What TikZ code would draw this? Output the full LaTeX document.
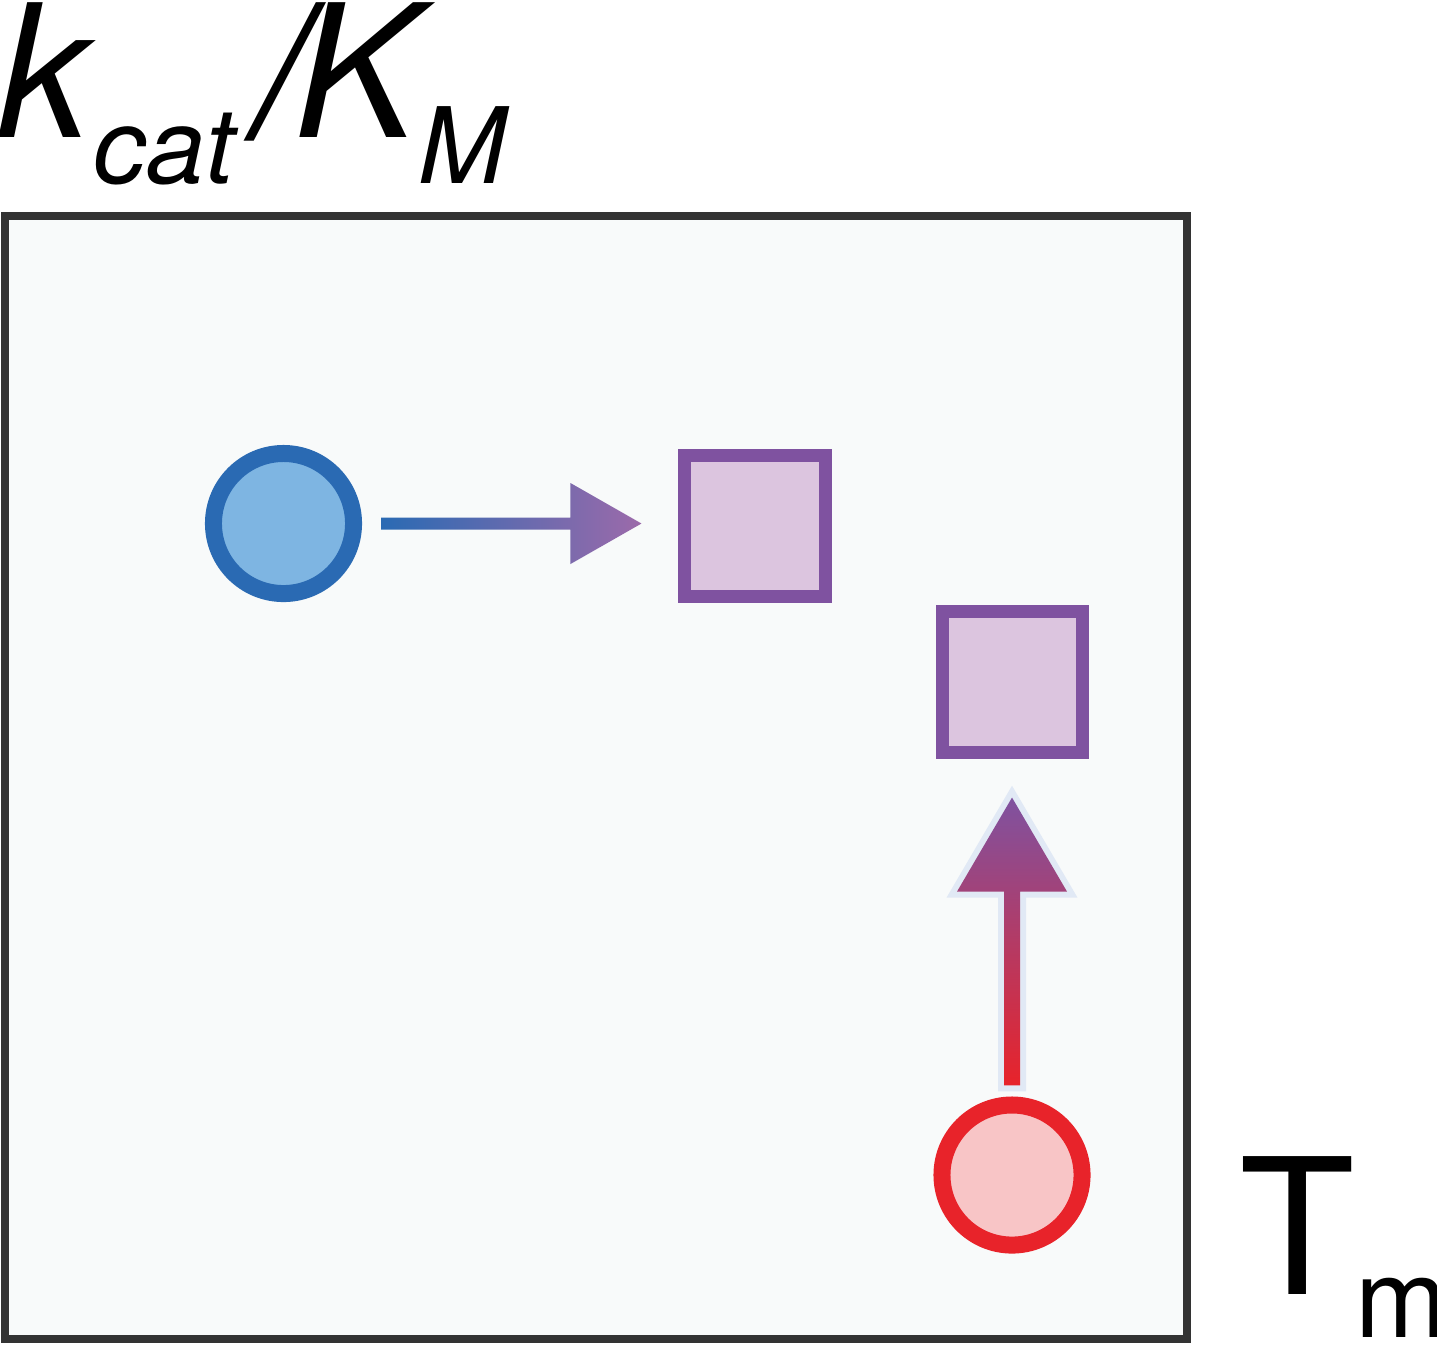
\documentclass[tikz,border=0pt]{standalone}
\usepackage{fontspec}
\setmainfont{TeX Gyre Heros}
\usetikzlibrary{calc}

\definecolor{boxgray}{HTML}{333333}
\definecolor{panel}{HTML}{F8FAFA}
\definecolor{blueedge}{HTML}{2A6AB3}
\definecolor{bluefill}{HTML}{7EB5E2}
\definecolor{purpleedge}{HTML}{7F52A0}
\definecolor{purplefill}{HTML}{DCC5DF}
\definecolor{rededge}{HTML}{E8232A}
\definecolor{redfill}{HTML}{F8C5C6}
\definecolor{arrowpurple}{HTML}{9C6AAA}
\definecolor{arrowedge}{HTML}{E1E9F5}

\begin{document}
\begin{tikzpicture}[x=0.01cm,y=-0.01cm,
    dot/.style={circle,inner sep=0pt,minimum size=1.4cm,line width=0.17cm},
    sqbox/.style={rectangle,inner sep=0pt,minimum size=1.4cm,line width=0.13cm,draw=purpleedge,fill=purplefill},
    harrow/.style={left color=blueedge,right color=arrowpurple},
    varrow/.style={bottom color=rededge,top color=purpleedge,
        preaction={draw=arrowedge,line width=0.12cm,line join=miter}}]
    \useasboundingbox (0,0) rectangle (1437,1344);
    % Panel
    \draw[line width=0.08cm,draw=boxgray,fill=panel] (5,216) rectangle (1187,1338.5);
    % Axis labels
    \node (kcat) [anchor=base west,inner sep=0pt] at (-3,137) {\fontsize{52.6}{52.6}\selectfont\itshape k\kern1pt\raisebox{-13.1pt}{\fontsize{30}{30}\selectfont cat}\kern6pt/\kern-3.5pt K\raisebox{-13.1pt}{\fontsize{30}{30}\selectfont M}};
    \node (tm) [anchor=base west,inner sep=0pt] at (1239,1294) {\fontsize{53.8}{53.8}\selectfont T\raisebox{-12.5pt}{\fontsize{31.3}{31.3}\selectfont m}};
    % Markers
    \node (ca) [dot,draw=blueedge,fill=bluefill] at (283.5,523.5) {};
    \node (sq1) [sqbox] at (755,526) {};
    \node (sq2) [sqbox] at (1012.5,682) {};
    \node (cr) [dot,draw=rededge,fill=redfill] at (1012,1175) {};
    % Arrows
    \coordinate (htail) at ($(ca.east)+(19,0)$);
    \coordinate (htip) at ($(ca.east -| sq1.west)+(-37,0)$);
    \path[harrow] (htip) -- ++(-71,-40.5) -- ++(0,34.5) -- ($(htail)+(0,-6)$) -- ++(0,12) -- ($(htip)+(-71,6)$) -- ++(0,34.5) -- cycle;
    \coordinate (vtail) at ($(cr.north)+(0,-11)$);
    \coordinate (vtip) at ($(sq2.south -| cr.north)+(0,39)$);
    \path[varrow] (vtip) -- ++(-55,94) -- ++(47,0) -- ($(vtail)+(-8,0)$) -- ++(16,0) -- ($(vtip)+(8,94)$) -- ++(47,0) -- cycle;
\end{tikzpicture}
\end{document}
